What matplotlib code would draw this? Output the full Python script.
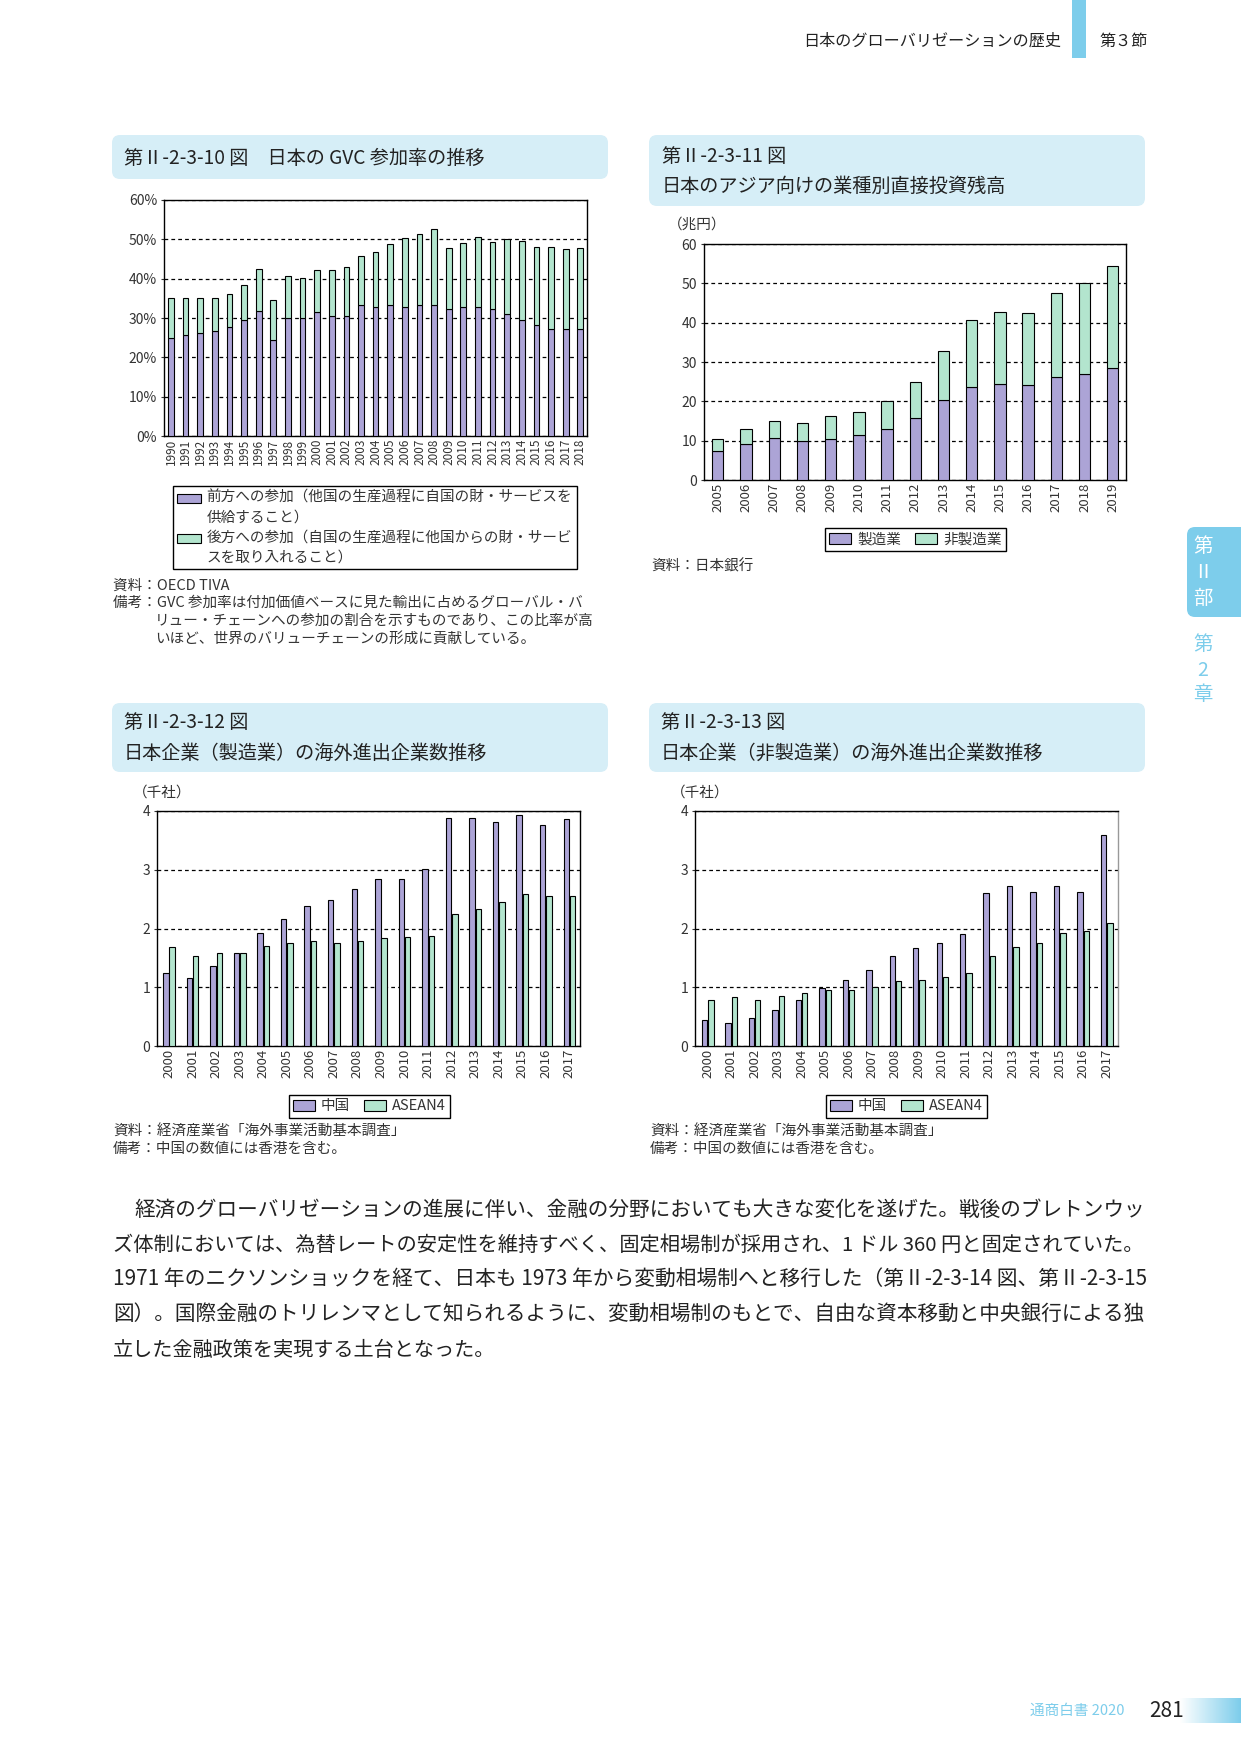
import numpy as np
import matplotlib
matplotlib.use('Agg')
import matplotlib.pyplot as plt
from matplotlib.patches import FancyBboxPatch, Rectangle
from matplotlib.legend_handler import HandlerPatch

plt.rcParams['font.family'] = ['Noto Sans CJK JP', 'DejaVu Sans']

W, H = 1241, 1754
PURPLE = '#aca4d6'
GREEN = '#b3e5ce'
BLUE = '#7dcdeb'
BOXC = '#d6eef7'
TXT = '#333333'

# ---- data: GVC participation (%)
gvc_years = [str(y) for y in range(1990, 2019)]
gvc_forward = [24.8, 25.8, 26.3, 26.8, 27.8, 29.6, 31.9, 24.5, 29.9, 29.9,
               31.4, 30.6, 30.6, 33.2, 32.9, 33.2, 32.9, 33.2, 33.4, 32.4,
               32.9, 32.9, 32.2, 30.9, 29.6, 28.1, 27.3, 27.1, 27.1]
gvc_backward = [10.4, 9.2, 8.9, 8.4, 8.4, 8.9, 10.5, 10.2, 10.9, 10.2,
                10.7, 11.5, 12.3, 12.5, 14.0, 15.5, 17.4, 18.1, 19.1, 15.3,
                16.1, 17.6, 17.0, 19.1, 20.1, 19.9, 20.7, 20.4, 20.6]

# ---- data: direct investment to Asia (trillion yen)
fdi_years = [str(y) for y in range(2005, 2020)]
fdi_manu = [7.3, 9.1, 10.6, 9.8, 10.3, 11.4, 12.9, 15.7, 20.3, 23.6, 24.3, 24.1, 26.1, 26.9, 28.4]
fdi_nonmanu = [3.0, 3.8, 4.3, 4.6, 5.9, 5.8, 7.1, 9.1, 12.4, 17.2, 18.3, 18.3, 21.4, 23.1, 25.9]

# ---- data: number of overseas affiliates (thousand companies)
firm_years = [str(y) for y in range(2000, 2018)]
manu_china = [1.25, 1.15, 1.37, 1.58, 1.92, 2.16, 2.38, 2.48, 2.68, 2.84,
              2.85, 3.01, 3.88, 3.88, 3.81, 3.93, 3.76, 3.86]
manu_asean = [1.68, 1.53, 1.58, 1.58, 1.71, 1.76, 1.78, 1.76, 1.78, 1.83,
              1.85, 1.87, 2.24, 2.33, 2.45, 2.58, 2.56, 2.56]
nonmanu_china = [0.44, 0.40, 0.47, 0.62, 0.78, 0.98, 1.13, 1.29, 1.53, 1.66,
                 1.76, 1.90, 2.60, 2.72, 2.62, 2.73, 2.62, 3.60]
nonmanu_asean = [0.79, 0.83, 0.79, 0.85, 0.90, 0.95, 0.96, 1.00, 1.10, 1.12,
                 1.17, 1.24, 1.53, 1.68, 1.75, 1.92, 1.95, 2.10]

body_lines = [
    '経済のグローバリゼーションの進展に伴い、金融の分野においても大きな変化を遂げた。戦後のブレトンウッ',
    'ズ体制においては、為替レートの安定性を維持すべく、固定相場制が採用され、1 ドル 360 円と固定されていた。',
    '1971 年のニクソンショックを経て、日本も 1973 年から変動相場制へと移行した（第Ⅱ-2-3-14 図、第Ⅱ-2-3-15',
    '図）。国際金融のトリレンマとして知られるように、変動相場制のもとで、自由な資本移動と中央銀行による独',
    '立した金融政策を実現する土台となった。',
]

fig = plt.figure(figsize=(W / 100, H / 100), dpi=100)

# page layer in pixel coordinates
bg = fig.add_axes([0, 0, 1, 1])
bg.set_xlim(0, W)
bg.set_ylim(H, 0)
bg.axis('off')


def px_axes(x0, y0, x1, y1):
    return fig.add_axes([x0 / W, 1 - y1 / H, (x1 - x0) / W, (y1 - y0) / H])


def title_box(x0, y0, x1, y1, lines, ys, tx):
    bg.add_patch(FancyBboxPatch((x0, y0), x1 - x0, y1 - y0,
                                boxstyle='round,pad=0,rounding_size=8',
                                fc=BOXC, ec='none'))
    for s, y in zip(lines, ys):
        bg.text(tx, y, s, fontsize=13.8, va='center', ha='left', color='#222222')


def style_axes(ax, ymax, step, xfs):
    ax.set_ylim(0, ymax)
    ax.set_yticks(np.arange(0, ymax + step / 2, step))
    ax.yaxis.grid(True, color='black', lw=0.9, ls=(0, (3, 2.5)))
    ax.set_axisbelow(True)
    for sp in ax.spines.values():
        sp.set_linewidth(1.0)
    ax.tick_params(axis='y', length=2, pad=3, labelsize=10, colors=TXT)
    ax.tick_params(axis='x', length=0, pad=2, labelsize=xfs, colors=TXT, labelrotation=90)


# legend swatch sitting on the first line of a two-line label
def top_patch(legend, orig_handle, xdescent, ydescent, width, height, fontsize):
    return Rectangle((-xdescent, -ydescent + 0.66 * fontsize), width, height)


def legend(handles, labels, x, y, loc, ncol, hl, hh, **kw):
    lg = fig.legend(handles, labels, loc=loc, bbox_to_anchor=(x / W, 1 - y / H),
                    ncol=ncol, fontsize=10.5, frameon=True, fancybox=False,
                    edgecolor='black', framealpha=1, borderaxespad=0,
                    borderpad=0.3, handlelength=hl, handleheight=hh,
                    handletextpad=0.4, columnspacing=1.0, **kw)
    lg.get_frame().set_linewidth(1.0)
    for t in lg.get_texts():
        t.set_color(TXT)
    return lg


# ---- header / side tab / footer
bg.text(1061, 41, '日本のグローバリゼーションの歴史', fontsize=11.6, ha='right', va='center', color='#222222')
bg.add_patch(Rectangle((1072, 0), 14, 58, fc=BLUE, ec='none'))
bg.text(1099, 41, '第３節', fontsize=11.6, ha='left', va='center', color='#222222')

bg.add_patch(FancyBboxPatch((1187, 527), 70, 90, boxstyle='round,pad=0,rounding_size=8',
                            fc=BLUE, ec='none'))
for s, y in zip(['第', 'Ⅱ', '部'], [547, 573, 598]):
    bg.text(1203, y, s, fontsize=14, ha='center', va='center', color='white')
for s, y in zip(['第', '2', '章'], [645, 670, 695]):
    bg.text(1203, y, s, fontsize=14, ha='center', va='center', color=BLUE)

bg.text(1030, 1711, '通商白書 2020', fontsize=10.5, ha='left', va='center', color=BLUE)
bg.text(1149, 1711, '281', fontsize=15, ha='left', va='center', color='#222222')
grad = np.linspace(0, 1, 100).reshape(1, -1)
cmap = matplotlib.colors.LinearSegmentedColormap.from_list('g', ['white', BLUE])
bg.imshow(grad, cmap=cmap, extent=(1180, 1241, 1723, 1698), aspect='auto', zorder=1)
bg.set_xlim(0, W)
bg.set_ylim(H, 0)

# ---- chart 1: GVC participation
title_box(112, 135, 608, 179, ['第Ⅱ-2-3-10 図　日本の GVC 参加率の推移'], [158], 124)
ax1 = px_axes(164, 200, 587, 436)
x1 = np.arange(len(gvc_years))
h1 = ax1.bar(x1, gvc_forward, width=0.39, color=PURPLE, edgecolor='black', lw=0.8, zorder=3)
h2 = ax1.bar(x1, gvc_backward, width=0.39, bottom=gvc_forward, color=GREEN,
             edgecolor='black', lw=0.8, zorder=3)
style_axes(ax1, 60, 10, 8.5)
ax1.set_yticklabels([f'{v}%' for v in range(0, 61, 10)])
ax1.set_xticks(x1)
ax1.set_xticklabels(gvc_years)
ax1.set_xlim(-0.48, 28.46)
lg1 = legend([h1.patches[0], h2.patches[0]],
             ['前方への参加（他国の生産過程に自国の財・サービスを\n供給すること）',
              '後方への参加（自国の生産過程に他国からの財・サービ\nスを取り入れること）'],
             173, 486, 'upper left', 1, 1.6, 0.6, labelspacing=0.4,
             handler_map={Rectangle: HandlerPatch(patch_func=top_patch)})
for t in lg1.get_texts():
    t.set_linespacing(1.55)
bg.text(113, 586, '資料：OECD TIVA', fontsize=10.5, va='center', color=TXT)
bg.text(113, 603, '備考：GVC 参加率は付加価値ベースに見た輸出に占めるグローバル・バ', fontsize=10.5, va='center', color=TXT)
bg.text(155, 621, 'リュー・チェーンへの参加の割合を示すものであり、この比率が高', fontsize=10.5, va='center', color=TXT)
bg.text(155, 639, 'いほど、世界のバリューチェーンの形成に貢献している。', fontsize=10.5, va='center', color=TXT)

# ---- chart 2: direct investment
title_box(649, 135, 1145, 206, ['第Ⅱ-2-3-11 図', '日本のアジア向けの業種別直接投資残高'], [156, 186], 662)
ax2 = px_axes(704, 244, 1126, 480)
x2 = np.arange(len(fdi_years))
g1 = ax2.bar(x2, fdi_manu, width=0.4, color=PURPLE, edgecolor='black', lw=0.8, zorder=3)
g2 = ax2.bar(x2, fdi_nonmanu, width=0.4, bottom=fdi_manu, color=GREEN,
             edgecolor='black', lw=0.8, zorder=3)
style_axes(ax2, 60, 10, 9.5)
ax2.set_xticks(x2)
ax2.set_xticklabels(fdi_years)
ax2.set_xlim(-0.49, 14.47)
bg.text(668, 225, '（兆円）', fontsize=10.5, va='center', color=TXT)
legend([g1, g2], ['製造業', '非製造業'], 915.5, 528, 'upper center', 2, 1.5, 0.85)
bg.text(651, 566, '資料：日本銀行', fontsize=10.5, va='center', color=TXT)


# ---- charts 3, 4: number of affiliates
def firm_chart(box_x, lines, axpos, xlim, china, asean, legx, notex):
    title_box(box_x, 703, box_x + 496, 772, lines, [723, 753], box_x + 12)
    ax = px_axes(*axpos)
    x = np.arange(len(firm_years))
    c = ax.bar(x - 0.135, china, width=0.23, color=PURPLE, edgecolor='black', lw=0.8, zorder=3)
    a = ax.bar(x + 0.135, asean, width=0.23, color=GREEN, edgecolor='black', lw=0.8, zorder=3)
    style_axes(ax, 4, 1, 9.5)
    ax.set_xticks(x)
    ax.set_xticklabels(firm_years)
    ax.set_xlim(*xlim)
    bg.text(axpos[0] - 24, 793, '（千社）', fontsize=10.5, va='center', color=TXT)
    legend([c, a], ['中国', 'ASEAN4'], legx, 1095, 'upper center', 2, 1.5, 0.85)
    bg.text(notex, 1132, '資料：経済産業省「海外事業活動基本調査」', fontsize=10.5, va='center', color=TXT)
    bg.text(notex, 1149, '備考：中国の数値には香港を含む。', fontsize=10.5, va='center', color=TXT)
    return ax


firm_chart(112, ['第Ⅱ-2-3-12 図', '日本企業（製造業）の海外進出企業数推移'],
           (157, 811, 580, 1046), (-0.51, 17.45), manu_china, manu_asean, 369.5, 113)
ax4 = firm_chart(649, ['第Ⅱ-2-3-13 図', '日本企業（非製造業）の海外進出企業数推移'],
                 (695, 811, 1118, 1046), (-0.54, 17.48), nonmanu_china, nonmanu_asean, 906.5, 650)
ax4.spines['right'].set_color('#999999')

# ---- body text
renderer = fig.canvas.get_renderer()
body_y = [1210, 1245, 1280, 1315, 1350]
for i, (line, y) in enumerate(zip(body_lines, body_y)):
    x0 = 134 if i == 0 else 113
    t = bg.text(x0, y, line, fontsize=14.5, va='center', ha='left', color='#222222')
    if i < 4:
        w = t.get_window_extent(renderer).width
        t.set_fontsize(14.5 * (1145 - x0) / w)

fig.savefig('out.png', dpi=100)
